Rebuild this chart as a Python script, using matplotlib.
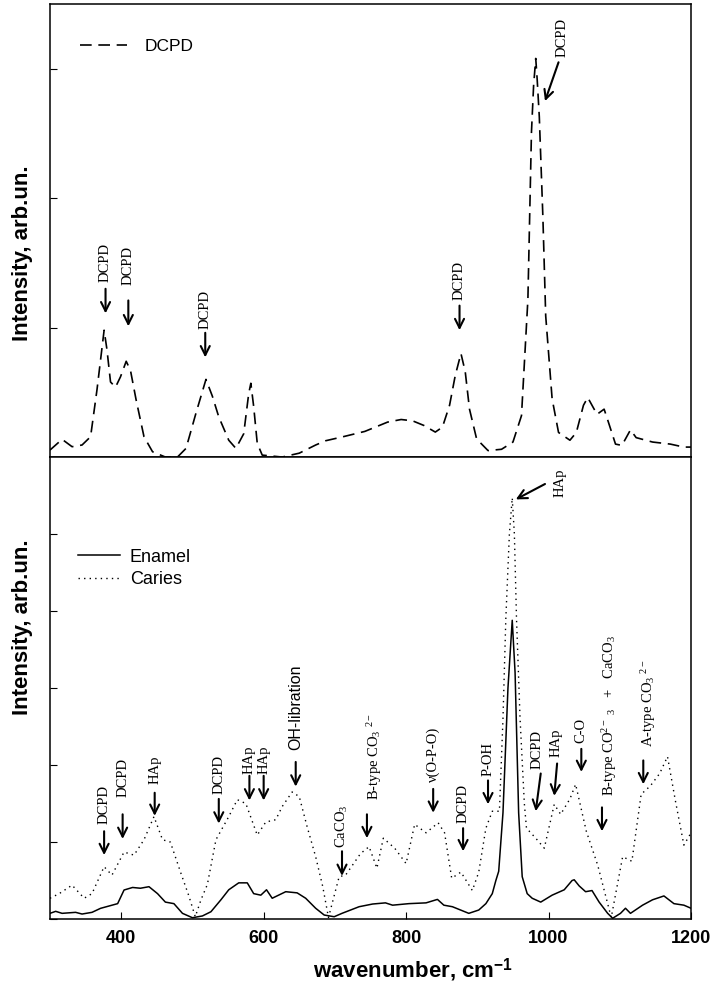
import matplotlib
matplotlib.use('Agg')
import matplotlib.pyplot as plt

plt.rcParams['font.family'] = ['Liberation Sans', 'DejaVu Sans']
plt.rcParams['mathtext.fontset'] = 'custom'
plt.rcParams['mathtext.rm'] = 'Liberation Serif'
plt.rcParams['mathtext.it'] = 'Liberation Serif:italic'
plt.rcParams['mathtext.bf'] = 'Liberation Sans:bold'

# DCPD reference spectrum (top panel)
dcpd_wn = [300, 317, 331, 345, 357, 366, 376, 380, 385, 392, 399, 407, 413, 421, 432, 444,
           462, 479, 491, 505, 519, 528, 537, 551, 561, 572, 579, 582, 586, 591, 598, 626,
           650, 673, 687, 710, 742, 774, 793, 809, 825, 841, 851, 861, 869, 877, 883, 889,
           899, 915, 934, 950, 962, 971, 976, 979, 982, 984, 987, 992, 996, 1005, 1014, 1030,
           1039, 1049, 1055, 1062, 1068, 1078, 1084, 1094, 1103, 1115, 1123, 1146, 1171, 1190, 1200]
dcpd_int = [0.054, 0.137, 0.08, 0.093, 0.157, 0.52, 0.98, 0.83, 0.58, 0.54, 0.62, 0.74, 0.67, 0.44, 0.157, 0.041,
            0.0, 0.0, 0.067, 0.34, 0.60, 0.47, 0.31, 0.13, 0.067, 0.18, 0.49, 0.57, 0.39, 0.106, 0.015, 0.0,
            0.03, 0.093, 0.126, 0.155, 0.198, 0.27, 0.29, 0.28, 0.244, 0.193, 0.231, 0.40, 0.63, 0.80, 0.66, 0.37,
            0.14, 0.05, 0.06, 0.116, 0.32, 1.22, 2.51, 2.87, 3.08, 2.92, 2.63, 1.86, 1.09, 0.45, 0.19, 0.13,
            0.19, 0.40, 0.46, 0.39, 0.33, 0.37, 0.27, 0.10, 0.09, 0.21, 0.15, 0.116, 0.10, 0.077, 0.077]

# enamel (solid) and caries (dotted), bottom panel
enamel_wn = [300, 308, 317, 336, 345, 359, 371, 395, 404, 416, 427, 439, 451, 462, 474, 486,
             500, 514, 526, 540, 551, 565, 577, 586, 596, 604, 612, 631, 647, 659, 673, 685,
             699, 710, 722, 734, 753, 771, 781, 804, 828, 844, 853, 865, 888, 902, 912, 921,
             926, 930, 936, 943, 949, 953, 958, 963, 970, 977, 989, 1005, 1022, 1033, 1036, 1043,
             1052, 1061, 1071, 1083, 1090, 1101, 1108, 1115, 1132, 1146, 1162, 1176, 1190, 1200]
enamel_int = [0.074, 0.10, 0.074, 0.087, 0.065, 0.087, 0.139, 0.2, 0.377, 0.41, 0.40, 0.42, 0.33, 0.22, 0.2, 0.074,
              0.017, 0.04, 0.095, 0.25, 0.38, 0.47, 0.47, 0.33, 0.31, 0.38, 0.27, 0.355, 0.34, 0.27, 0.14, 0.052,
              0.03, 0.074, 0.117, 0.16, 0.195, 0.21, 0.18, 0.2, 0.21, 0.255, 0.18, 0.16, 0.074, 0.117, 0.2, 0.33,
              0.5, 0.62, 1.38, 3.0, 3.88, 3.2, 1.38, 0.55, 0.33, 0.27, 0.22, 0.31, 0.38, 0.5, 0.51, 0.43,
              0.355, 0.37, 0.22, 0.074, 0.01, 0.074, 0.14, 0.074, 0.18, 0.25, 0.30, 0.2, 0.18, 0.14]

caries_wn = [300, 313, 331, 348, 359, 376, 387, 404, 418, 432, 446, 458, 469, 484, 495, 504,
             512, 521, 533, 551, 563, 575, 591, 603, 617, 626, 640, 650, 661, 673, 683, 691,
             706, 715, 736, 748, 759, 768, 784, 800, 812, 828, 845, 854, 864, 877, 893, 902,
             912, 921, 931, 936, 940, 945, 949, 952, 955, 960, 966, 969, 982, 994, 1008, 1017,
             1030, 1038, 1053, 1069, 1088, 1104, 1117, 1130, 1143, 1156, 1167, 1178, 1190, 1200]
caries_int = [0.27, 0.33, 0.44, 0.27, 0.33, 0.68, 0.57, 0.87, 0.83, 1.03, 1.33, 1.03, 1.0, 0.59, 0.3, 0.03,
              0.25, 0.45, 1.03, 1.33, 1.55, 1.50, 1.09, 1.26, 1.29, 1.46, 1.65, 1.59, 1.2, 0.81, 0.42, 0.02,
              0.55, 0.57, 0.85, 0.94, 0.66, 1.05, 0.92, 0.72, 1.23, 1.12, 1.25, 1.12, 0.53, 0.61, 0.37, 0.61,
              1.18, 1.40, 1.4, 2.6, 3.9, 5.0, 5.47, 5.0, 3.9, 2.6, 1.5, 1.18, 1.05, 0.92, 1.49, 1.36,
              1.56, 1.75, 1.14, 0.70, 0.02, 0.81, 0.75, 1.62, 1.73, 1.89, 2.11, 1.54, 0.96, 1.12]

# vertical arrow labels: (x, arrow tail, arrow head, text, text bottom)
top_marks = [(378, 1.30, 1.11, 'DCPD', 1.35),
             (410, 1.21, 1.01, 'DCPD', 1.33),
             (518, 0.96, 0.77, 'DCPD', 0.99),
             (875, 1.17, 0.98, 'DCPD', 1.21)]

bot_marks = [(376, 1.14, 0.83, 'DCPD', 1.24),
             (402, 1.36, 1.04, 'DCPD', 1.58),
             (447, 1.64, 1.34, 'HAp', 1.75),
             (537, 1.56, 1.24, 'DCPD', 1.62),
             (580, 1.86, 1.54, 'HAp', 1.89),
             (600, 1.86, 1.54, 'HAp', 1.89),
             (710, 0.88, 0.56, 'CaCO$_3$', 0.92),
             (838, 1.69, 1.38, 'ν(O-P-O)', 1.78),
             (880, 1.18, 0.88, 'DCPD', 1.25),
             (915, 1.80, 1.49, 'P-OH', 1.86),
             (1046, 2.21, 1.91, 'C-O', 2.28)]

serif = ['Liberation Serif', 'DejaVu Serif']
afs = 10.5
arrow = dict(arrowstyle='->, head_length=0.5, head_width=0.25', lw=1.5, color='k',
             shrinkA=0, shrinkB=0, mutation_scale=13)

fig = plt.figure(figsize=(7.14, 9.88), dpi=100)
ax1 = fig.add_axes([0.0700, 0.5374, 0.8978, 0.4585])
ax2 = fig.add_axes([0.0700, 0.0698, 0.8978, 0.4676])

ax1.plot(dcpd_wn, dcpd_int, color='k', lw=1.2, ls=(0, (7, 4)), label='DCPD')
ax1.set_xlim(300, 1200)
ax1.set_ylim(0, 3.5)
ax1.set_yticks([0, 1, 2, 3])
ax1.tick_params(axis='y', direction='in', length=5, labelleft=False)
ax1.tick_params(axis='x', bottom=False, labelbottom=False)
ax1.legend(loc='upper left', bbox_to_anchor=(0.047, 0.924), frameon=False, fontsize=12.5,
           handlelength=2.7, handletextpad=1.0, borderpad=0, borderaxespad=0)

for x, y0, y1, t, yt in top_marks:
    ax1.annotate('', xy=(x, y1), xytext=(x, y0), arrowprops=arrow)
    ax1.text(x, yt, t, rotation=90, ha='center', va='bottom', family=serif, fontsize=afs)
ax1.annotate('', xy=(995, 2.75), xytext=(1014, 3.05), arrowprops=arrow)
ax1.text(1019, 3.09, 'DCPD', rotation=90, ha='center', va='bottom', family=serif, fontsize=afs)

ax2.plot(enamel_wn, enamel_int, color='k', lw=1.1, label='Enamel')
ax2.plot(caries_wn, caries_int, color='k', lw=1.0, ls=(0, (1, 3)), label='Caries')
ax2.set_xlim(300, 1200)
ax2.set_ylim(0, 6)
ax2.set_yticks([0, 1, 2, 3, 4, 5])
ax2.set_xticks([400, 600, 800, 1000, 1200])
ax2.tick_params(axis='y', direction='in', length=5, labelleft=False)
ax2.tick_params(axis='x', direction='in', length=5, pad=8, labelsize=13)
for lb in ax2.get_xticklabels():
    lb.set_fontweight('bold')
ax2.legend(loc='upper left', bbox_to_anchor=(0.044, 0.802), frameon=False, fontsize=13,
           handlelength=2.3, handletextpad=0.55, labelspacing=0.3, borderpad=0, borderaxespad=0)

for x, y0, y1, t, yt in bot_marks:
    ax2.annotate('', xy=(x, y1), xytext=(x, y0), arrowprops=arrow)
    ax2.text(x, yt, t, rotation=90, ha='center', va='bottom', family=serif, fontsize=afs)

ax2.annotate('', xy=(645, 1.72), xytext=(645, 2.04), arrowprops=arrow)
ax2.text(645, 2.19, 'OH-libration', rotation=90, ha='center', va='bottom', fontsize=11.5)

ax2.annotate('', xy=(745, 1.05), xytext=(745, 1.36), arrowprops=arrow)
ax2.text(756, 1.54, 'B-type CO$_3$ $^{2-}$', rotation=90, ha='center', va='bottom',
         family=serif, fontsize=afs)

ax2.annotate('', xy=(982, 1.40), xytext=(989, 1.89), arrowprops=arrow)
ax2.text(984, 1.95, 'DCPD', rotation=90, ha='center', va='bottom', family=serif, fontsize=afs)
ax2.annotate('', xy=(1008, 1.60), xytext=(1012, 2.02), arrowprops=arrow)
ax2.text(1011, 2.11, 'HAp', rotation=90, ha='center', va='bottom', family=serif, fontsize=afs)

ax2.annotate('', xy=(1075, 1.14), xytext=(1075, 1.45), arrowprops=arrow)
ax2.text(1086, 1.60, 'B-type CO$^{2-}$ $_3$   +   CaCO$_3$', rotation=90, ha='center', va='bottom',
         family=serif, fontsize=afs)

ax2.annotate('', xy=(1133, 1.75), xytext=(1133, 2.06), arrowprops=arrow)
ax2.text(1140, 2.24, 'A-type CO$_3$ $^{2-}$', rotation=90, ha='center', va='bottom',
         family=serif, fontsize=afs)

ax2.annotate('', xy=(954, 5.45), xytext=(995, 5.65), arrowprops=arrow)
ax2.text(1016, 5.66, 'HAp', rotation=90, ha='center', va='center', family=serif, fontsize=afs)

for ax in (ax1, ax2):
    for s in ax.spines.values():
        s.set_linewidth(1.1)

fig.text(0.032, 0.744, 'Intensity, arb.un.', rotation=90, ha='center', va='center',
         fontsize=16, fontweight='bold')
fig.text(0.032, 0.365, 'Intensity, arb.un.', rotation=90, ha='center', va='center',
         fontsize=16, fontweight='bold')
fig.text(0.578, 0.018, r'wavenumber, cm$^{\mathbf{-1}}$', ha='center', va='center',
         fontsize=16, fontweight='bold')

fig.savefig('out.png', dpi=100)
